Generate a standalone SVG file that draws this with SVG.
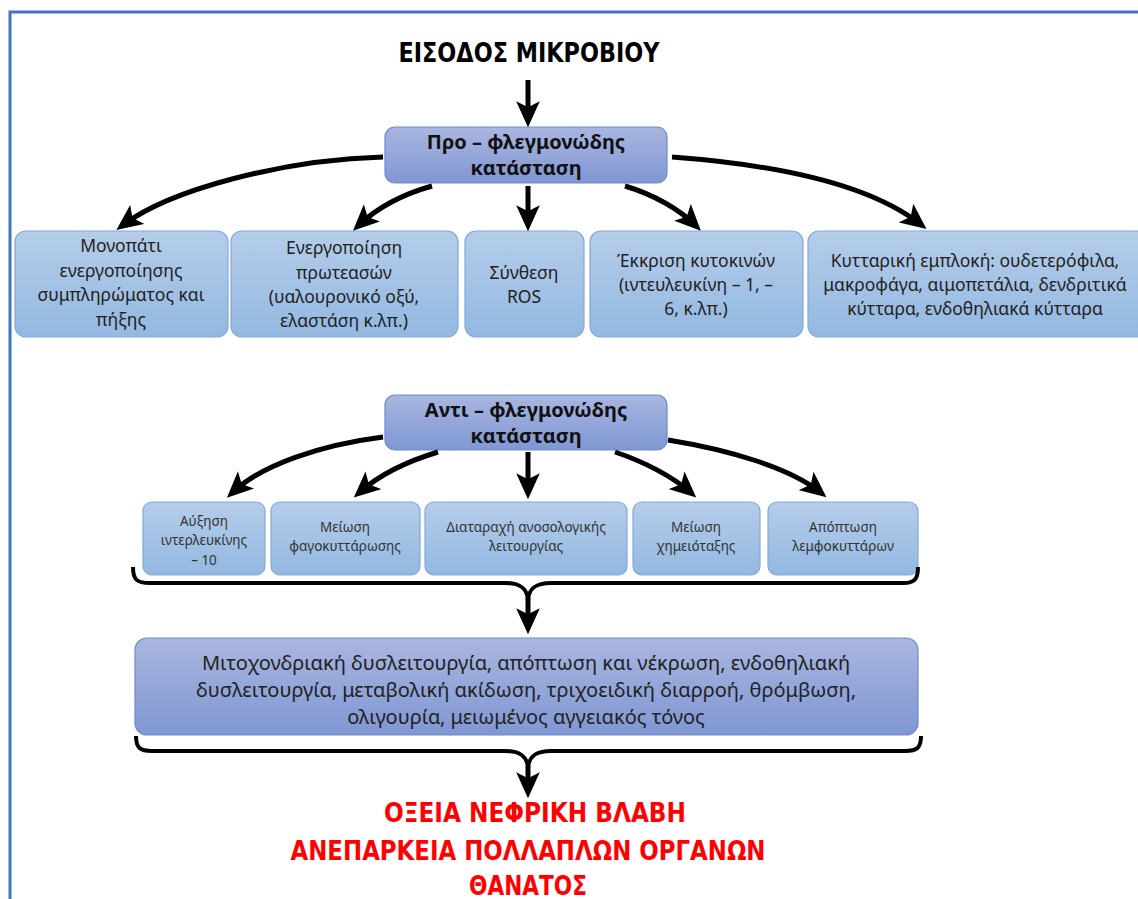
<svg xmlns="http://www.w3.org/2000/svg" width="1138" height="899" viewBox="0 0 1138 899">
<defs>
<linearGradient id="gDark" x1="0" y1="0" x2="0" y2="1"><stop offset="0" stop-color="#A9B6E0"/><stop offset="1" stop-color="#8097D3"/></linearGradient>
<linearGradient id="gLight" x1="0" y1="0" x2="0" y2="1"><stop offset="0" stop-color="#B5CDEA"/><stop offset="1" stop-color="#93B8E1"/></linearGradient>
<marker id="ah" markerUnits="userSpaceOnUse" markerWidth="26" markerHeight="24" viewBox="0 0 22 20" refX="15" refY="10" orient="auto"><path d="M0,0 L22,10 L0,20 L5,10 z" fill="#000"/></marker>
<style>
.frame{fill:none;stroke:#4472C4;stroke-width:3}
.dark{fill:url(#gDark);stroke:#7089CC;stroke-width:1.2}
.light{fill:url(#gLight);stroke:#82A9DA;stroke-width:1.2}
.hd{font-family:"Noto Sans","DejaVu Sans",sans-serif;font-weight:bold;font-size:20px;fill:#111;text-anchor:middle}
.t1{font-family:"Noto Sans","DejaVu Sans",sans-serif;font-size:17.5px;fill:#222;text-anchor:middle}
.t2{font-family:"Noto Sans","DejaVu Sans",sans-serif;font-size:13.5px;fill:#333;text-anchor:middle}
.t3{font-family:"Noto Sans","DejaVu Sans",sans-serif;font-size:20px;fill:#222;text-anchor:middle}
.big{font-family:"DejaVu Sans Condensed","DejaVu Sans",sans-serif;font-stretch:condensed;font-weight:bold;font-size:27px;text-anchor:middle}
.arr{fill:none;stroke:#000;stroke-width:5;marker-end:url(#ah)}
.brace{fill:none;stroke:#000;stroke-width:4;stroke-linejoin:round}
</style>
</defs>
<rect width="1138" height="899" fill="#fff"/>
<path class="frame" d="M10,899 L10,12 L1138,12"/>

<g id="title"><text class="big" x="529" y="62" fill="#000" textLength="261" lengthAdjust="spacingAndGlyphs">ΕΙΣΟΔΟΣ ΜΙΚΡΟΒΙΟΥ</text></g>

<g id="pro"><rect class="dark" x="385" y="127" width="282" height="56" rx="10"/>
<text class="hd" x="526" y="149">Προ – φλεγμονώδης</text><text class="hd" x="526" y="175">κατάσταση</text></g>

<g id="p1"><rect class="light" x="15" y="231" width="213" height="106" rx="11"/>
<text class="t1" x="121" y="252">Μονοπάτι</text><text class="t1" x="121" y="277">ενεργοποίησης</text><text class="t1" x="121" y="301">συμπληρώματος και</text><text class="t1" x="121" y="326">πήξης</text></g>
<g id="p2"><rect class="light" x="231" y="231" width="227" height="106" rx="11"/>
<text class="t1" x="344" y="254">Ενεργοποίηση</text><text class="t1" x="344" y="279">πρωτεασών</text><text class="t1" x="344" y="303">(υαλουρονικό οξύ,</text><text class="t1" x="344" y="327">ελαστάση κ.λπ.)</text></g>
<g id="p3"><rect class="light" x="465" y="231" width="119" height="106" rx="11"/>
<text class="t1" x="524" y="279">Σύνθεση</text><text class="t1" x="524" y="303">ROS</text></g>
<g id="p4"><rect class="light" x="590" y="231" width="213" height="106" rx="11"/>
<text class="t1" x="696" y="267">Έκκριση κυτοκινών</text><text class="t1" x="696" y="291">(ιντευλευκίνη – 1,  –</text><text class="t1" x="696" y="315">6, κ.λπ.)</text></g>
<g id="p5"><rect class="light" x="808" y="231" width="340" height="106" rx="11"/>
<text class="t1" x="975" y="267">Κυτταρική εμπλοκή: ουδετερόφιλα,</text><text class="t1" x="975" y="291">μακροφάγα, αιμοπετάλια, δενδριτικά</text><text class="t1" x="975" y="315">κύτταρα, ενδοθηλιακά κύτταρα</text></g>

<g id="anti"><rect class="dark" x="385" y="395" width="282" height="55" rx="10"/>
<text class="hd" x="526" y="417">Αντι – φλεγμονώδης</text><text class="hd" x="526" y="443">κατάσταση</text></g>

<g id="a1"><rect class="light" x="143" y="502" width="122" height="73" rx="9"/>
<text class="t2" x="204" y="526">Αύξηση</text><text class="t2" x="204" y="545">ιντερλευκίνης</text><text class="t2" x="204" y="565">– 10</text></g>
<g id="a2"><rect class="light" x="271" y="502" width="149" height="73" rx="9"/>
<text class="t2" x="345" y="532">Μείωση</text><text class="t2" x="345" y="551">φαγοκυττάρωσης</text></g>
<g id="a3"><rect class="light" x="425" y="502" width="202" height="73" rx="9"/>
<text class="t2" x="526" y="532">Διαταραχή ανοσολογικής</text><text class="t2" x="526" y="551">λειτουργίας</text></g>
<g id="a4"><rect class="light" x="633" y="502" width="127" height="73" rx="9"/>
<text class="t2" x="696" y="532">Μείωση</text><text class="t2" x="696" y="551">χημειόταξης</text></g>
<g id="a5"><rect class="light" x="768" y="502" width="150" height="73" rx="9"/>
<text class="t2" x="843" y="532">Απόπτωση</text><text class="t2" x="843" y="551">λεμφοκυττάρων</text></g>

<g id="result"><rect class="dark" x="135" y="638" width="783" height="97" rx="12"/>
<text class="t3" x="526" y="670">Μιτοχονδριακή δυσλειτουργία, απόπτωση και νέκρωση, ενδοθηλιακή</text>
<text class="t3" x="526" y="697">δυσλειτουργία, μεταβολική ακίδωση, τριχοειδική διαρροή, θρόμβωση,</text>
<text class="t3" x="526" y="724">ολιγουρία, μειωμένος αγγειακός τόνος</text></g>

<g id="outcome" fill="#FF0000">
<text class="big" x="535" y="822" fill="#FF0000" textLength="302" lengthAdjust="spacingAndGlyphs">ΟΞΕΙΑ ΝΕΦΡΙΚΗ ΒΛΑΒΗ</text>
<text class="big" x="528" y="860" fill="#FF0000" textLength="475" lengthAdjust="spacingAndGlyphs">ΑΝΕΠΑΡΚΕΙΑ ΠΟΛΛΑΠΛΩΝ ΟΡΓΑΝΩΝ</text>
<text class="big" x="528" y="895" fill="#FF0000" textLength="118" lengthAdjust="spacingAndGlyphs">ΘΑΝΑΤΟΣ</text></g>

<g id="connectors">
<path class="arr" d="M528,80 L528,119"/>
<path class="arr" d="M383,157 C280,160 170,190 123,225"/>
<path class="arr" d="M432,186 C400,195 375,210 359,225"/>
<path class="arr" d="M528,186 L528,223"/>
<path class="arr" d="M625,186 C655,195 680,210 695,225"/>
<path class="arr" d="M672,157 C780,165 870,185 920,224"/>
<path class="arr" d="M383,437 C320,445 262,465 233,492"/>
<path class="arr" d="M438,452 C405,462 377,477 360,492"/>
<path class="arr" d="M528,452 L528,491"/>
<path class="arr" d="M615,452 C645,462 673,477 690,492"/>
<path class="arr" d="M668,440 C730,450 790,468 820,492"/>
<path class="brace" d="M133,567 C133,580 137,583 150,583 L505,583 C520,583 527,588 528,600 C529,588 536,583 551,583 L903,583 C914,583 918,580 918,567"/>
<path class="arr" d="M528,598 L528,626"/>
<path class="brace" d="M136,736 C136,748 140,751 152,751 L505,751 C520,751 527,756 528,768 C529,756 536,751 551,751 L905,751 C917,751 921,748 921,736"/>
<path class="arr" d="M528,766 L528,790"/>
</g>
</svg>
